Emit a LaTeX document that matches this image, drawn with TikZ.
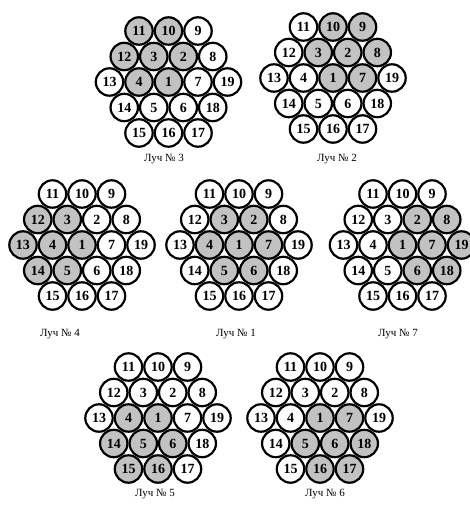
\documentclass[tikz,border=0pt]{standalone}
\usepackage{fontspec}
\setmainfont{Liberation Serif}
\makeatletter
\newcommand\pickwire[2]{\edef\pw@tmp{\noexpand\in@{,#1,}{,#2,}}\pw@tmp
  \ifin@\def\wirest{wireon}\else\def\wirest{wireoff}\fi}
\makeatother
\tikzset{
  wireoff/.style={circle,draw=black,line width=2.2pt,fill=white,minimum size=27.4pt,inner sep=0pt,
    font=\fontsize{14}{14}\selectfont\bfseries},
  wireon/.style={wireoff,fill=black!24},
  caption/.style={font=\fontsize{11}{12}\selectfont,inner sep=0pt}
}
% #1 name, #2 cx, #3 cy, #4 shaded list, #5 label text, #6 label x, #7 label y
\newcommand\bundle[7]{%
  \def\shl{#4}%
  \foreach \n/\a/\b in {11/-1/-2,10/0/-2,9/1/-2,
      12/-1.5/-1,3/-0.5/-1,2/0.5/-1,8/1.5/-1,
      13/-2/0,4/-1/0,1/0/0,7/1/0,19/2/0,
      14/-1.5/1,5/-0.5/1,6/0.5/1,18/1.5/1,
      15/-1/2,16/0/2,17/1/2}{%
    \pickwire{\n}{\shl}%
    \node[\wirest] (#1-\n) at (#2+29.5*\a, #3+25.5*\b) {\n};
  }
  \node[caption] (#1-lab) at (#6,#7) {#5};
}
\begin{document}
\begin{tikzpicture}[x=1pt,y=-1pt]
\useasboundingbox (0,0) rectangle (470,505);
\bundle{b3}{168.5}{82}{11,10,12,3,2,4,1}{Луч № 3}{164}{159}
\bundle{b2}{333}{78}{10,9,3,2,8,1,7}{Луч № 2}{337}{159}
\bundle{b4}{82}{245}{12,3,13,4,1,14,5}{Луч № 4}{60}{334}
\bundle{b1}{239}{245}{3,2,4,1,7,5,6}{Луч № 1}{236}{334}
\bundle{b7}{402.5}{245}{2,8,1,7,19,6,18}{Луч № 7}{398}{334}
\bundle{b5}{158}{418}{4,1,14,5,6,15,16}{Луч № 5}{155}{494}
\bundle{b6}{320}{418}{1,7,5,6,18,16,17}{Луч № 6}{325}{494}
\end{tikzpicture}
\end{document}
